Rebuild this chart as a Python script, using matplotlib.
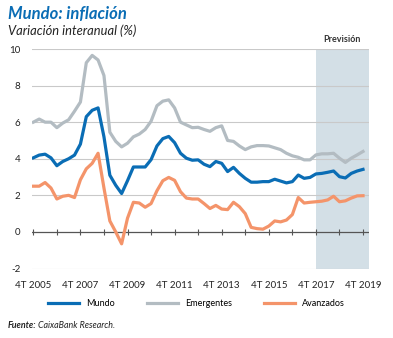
import numpy as np
import matplotlib
matplotlib.use("Agg")
import matplotlib.pyplot as plt
from matplotlib.lines import Line2D

plt.rcParams['font.family'] = ['Lato', 'DejaVu Sans']

# trimestres desde 4T 2005 hasta 4T 2019
quarters = ["4T 2005"] + [f"{q}T {y}" for y in range(2006, 2020) for q in (1, 2, 3, 4)]

mundo = [4.05, 4.2, 4.25, 4.05, 3.62, 3.85, 4.0, 4.2, 4.8, 6.3,
         6.65, 6.78, 5.2, 3.1, 2.55, 2.1, 2.8, 3.55, 3.55, 3.55,
         3.95, 4.7, 5.1, 5.22, 4.88, 4.3, 4.03, 3.92, 3.94, 3.7,
         3.57, 3.85, 3.75, 3.3, 3.53, 3.2, 2.93, 2.72, 2.72, 2.75,
         2.75, 2.88, 2.78, 2.68, 2.75, 3.11, 2.93, 2.98, 3.17, 3.2,
         3.26, 3.33, 3.02, 2.95, 3.2, 3.33, 3.42]
emergentes = [6.0, 6.17, 6.0, 6.0, 5.7, 5.95, 6.13, 6.6, 7.1, 9.25,
              9.65, 9.4, 8.55, 5.45, 4.95, 4.65, 4.85, 5.2, 5.35, 5.6,
              6.05, 6.9, 7.15, 7.22, 6.78, 6.0, 5.85, 5.7, 5.72, 5.6,
              5.5, 5.7, 5.8, 5.0, 4.95, 4.7, 4.5, 4.65, 4.72, 4.72,
              4.7, 4.6, 4.5, 4.3, 4.16, 4.08, 3.94, 3.94, 4.21, 4.27,
              4.27, 4.3, 4.03, 3.8, 4.03, 4.21, 4.4]
avanzados = [2.5, 2.5, 2.7, 2.4, 1.8, 1.95, 2.0, 1.88, 2.85, 3.45,
             3.75, 4.3, 2.4, 0.6, 0.0, -0.65, 0.75, 1.62, 1.58, 1.35,
             1.55, 2.25, 2.8, 2.98, 2.82, 2.2, 1.85, 1.8, 1.8, 1.55,
             1.28, 1.45, 1.25, 1.22, 1.62, 1.38, 1.0, 0.25, 0.18, 0.15,
             0.32, 0.6, 0.55, 0.65, 0.95, 1.88, 1.58, 1.62, 1.65, 1.68,
             1.75, 1.95, 1.65, 1.7, 1.85, 1.97, 1.98]

tick_labels = ["4T 2005", "4T 2007", "4T 2009", "4T 2011",
               "4T 2013", "4T 2015", "4T 2017", "4T 2019"]
minor_labels = [f"4T {y}" for y in range(2005, 2020)]
y_ticks = [-2, 0, 2, 4, 6, 8, 10]
forecast_start = "4T 2017"

# colores
c_mundo = "#0a6db5"
c_emerg = "#b3bcc2"
c_avanz = "#f4946a"
c_shade = "#d3dfe6"

fig = plt.figure(figsize=(3.93, 3.38), dpi=100)
ax = fig.add_axes([0.0807, 0.2056, 0.858, 0.6494])

x = np.arange(len(quarters))
ax.set_xlim(-0.27, 57.0)
ax.set_ylim(-2, 10)

# zona de previsión
ax.axvspan(quarters.index(forecast_start), ax.get_xlim()[1], color=c_shade, lw=0, zorder=0)
ax.text((quarters.index(forecast_start) + ax.get_xlim()[1]) / 2, 10.25, "Previsión",
        ha="center", va="bottom", fontsize=6.5, fontweight="bold", color="#333333")

# rejilla
for v in y_ticks:
    if v == 0:
        ax.axhline(v, color="#555555", lw=0.9, zorder=1)
    else:
        ax.axhline(v, color="#c9c9c9", lw=0.8, zorder=1)
tick_pos = [quarters.index(t) for t in minor_labels]
ax.vlines(tick_pos, -0.17, 0.17, color="#555555", lw=0.8, zorder=1)

ax.plot(x, emergentes, color=c_emerg, lw=2.3, zorder=3, solid_joinstyle="round")
ax.plot(x, avanzados, color=c_avanz, lw=2.3, zorder=3, solid_joinstyle="round")
ax.plot(x, mundo, color=c_mundo, lw=2.3, zorder=4, solid_joinstyle="round")

ax.set_yticks(y_ticks)
ax.set_yticklabels([str(v) for v in y_ticks])
ax.set_xticks([quarters.index(t) for t in tick_labels])
ax.set_xticklabels(tick_labels)
ax.tick_params(axis="both", length=0, labelsize=7, colors="#222222")
ax.tick_params(axis="y", pad=8)
ax.tick_params(axis="x", pad=9)
for s in ax.spines.values():
    s.set_visible(False)

# titulos
fig.text(0.02, 0.982, "Mundo: inflación", color=c_mundo, fontsize=12,
         fontweight="bold", fontstyle="italic", ha="left", va="top")
fig.text(0.02, 0.927, "Variación interanual (%)", color="#222222", fontsize=9.3,
         fontstyle="italic", ha="left", va="top")

# leyenda
handles = [Line2D([], [], color=c_mundo, lw=2.3),
           Line2D([], [], color=c_emerg, lw=2.3),
           Line2D([], [], color=c_avanz, lw=2.3)]
fig.legend(handles, ["Mundo", "Emergentes", "Avanzados"], loc="center",
           bbox_to_anchor=(0.5, 1 - 304 / 338), ncol=3, frameon=False,
           fontsize=6.5, handlelength=3.4, handletextpad=0.8, columnspacing=3.6)

# fuente
fig.text(0.02, 1 - 326 / 338, "Fuente:", fontsize=6.4, fontweight="bold",
         fontstyle="italic", color="#222222", ha="left", va="center")
fig.text(0.097, 1 - 326 / 338, "CaixaBank Research.", fontsize=6.4,
         fontstyle="italic", color="#222222", ha="left", va="center")

fig.savefig("out.png", dpi=100)
